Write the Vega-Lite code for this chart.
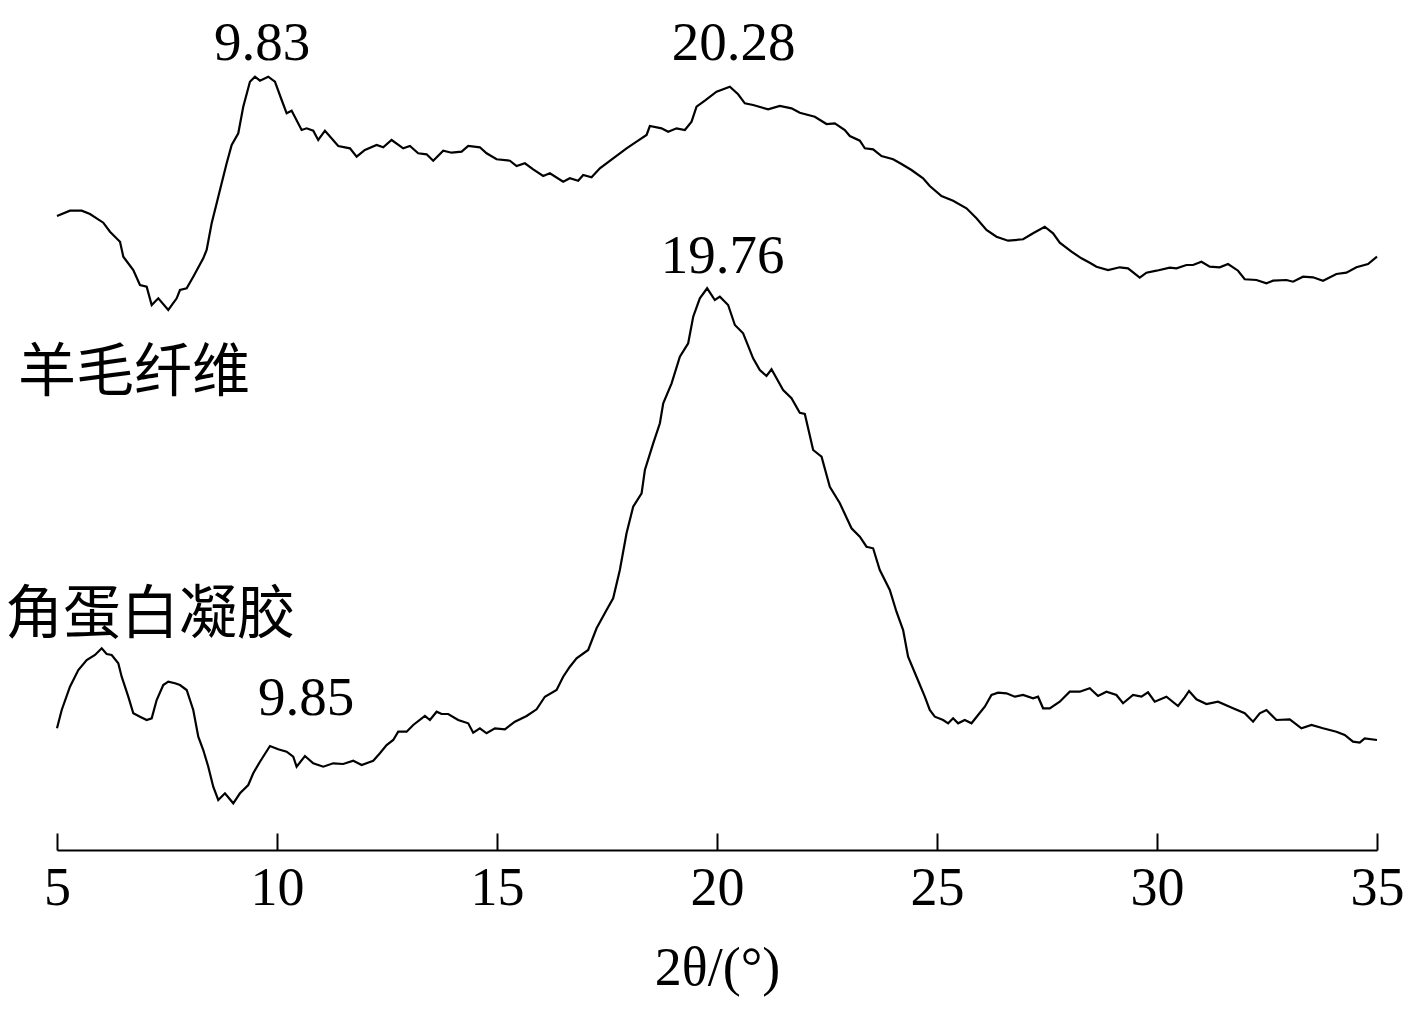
{
  "$schema": "https://vega.github.io/schema/vega-lite/v6.json",
  "autosize": {"type": "none"},
  "padding": {"left": 57, "top": 0, "right": 40, "bottom": 168},
  "width": 1320,
  "height": 850,
  "background": "white",
  "config": {"view": {"stroke": null}},
  "datasets": {
    "curves": [
      {"series":"wool","angle":5.0,"intensity":634},
      {"series":"wool","angle":5.295,"intensity":639.3},
      {"series":"wool","angle":5.561,"intensity":639.3},
      {"series":"wool","angle":5.75,"intensity":636},
      {"series":"wool","angle":6.052,"intensity":627.3},
      {"series":"wool","angle":6.204,"intensity":618.3},
      {"series":"wool","angle":6.432,"intensity":608.3},
      {"series":"wool","angle":6.507,"intensity":593.3},
      {"series":"wool","angle":6.734,"intensity":580},
      {"series":"wool","angle":6.886,"intensity":565},
      {"series":"wool","angle":7.038,"intensity":563.3},
      {"series":"wool","angle":7.152,"intensity":545},
      {"series":"wool","angle":7.302,"intensity":551.7},
      {"series":"wool","angle":7.529,"intensity":540},
      {"series":"wool","angle":7.72,"intensity":551.7},
      {"series":"wool","angle":7.795,"intensity":560},
      {"series":"wool","angle":7.947,"intensity":561.7},
      {"series":"wool","angle":8.097,"intensity":573.3},
      {"series":"wool","angle":8.324,"intensity":591.7},
      {"series":"wool","angle":8.401,"intensity":600},
      {"series":"wool","angle":8.515,"intensity":626.7},
      {"series":"wool","angle":8.629,"intensity":646.7},
      {"series":"wool","angle":8.742,"intensity":666.7},
      {"series":"wool","angle":8.856,"intensity":686.7},
      {"series":"wool","angle":8.97,"intensity":705},
      {"series":"wool","angle":9.12,"intensity":716.7},
      {"series":"wool","angle":9.233,"intensity":743.3},
      {"series":"wool","angle":9.385,"intensity":768.3},
      {"series":"wool","angle":9.499,"intensity":773.3},
      {"series":"wool","angle":9.613,"intensity":769.3},
      {"series":"wool","angle":9.801,"intensity":773.3},
      {"series":"wool","angle":9.953,"intensity":768.3},
      {"series":"wool","angle":10.106,"intensity":750},
      {"series":"wool","angle":10.219,"intensity":736.7},
      {"series":"wool","angle":10.333,"intensity":739.3},
      {"series":"wool","angle":10.56,"intensity":720},
      {"series":"wool","angle":10.674,"intensity":721.7},
      {"series":"wool","angle":10.824,"intensity":719.3},
      {"series":"wool","angle":10.937,"intensity":710},
      {"series":"wool","angle":11.09,"intensity":719.3},
      {"series":"wool","angle":11.392,"intensity":704},
      {"series":"wool","angle":11.658,"intensity":701.7},
      {"series":"wool","angle":11.81,"intensity":693.3},
      {"series":"wool","angle":11.998,"intensity":700},
      {"series":"wool","angle":12.264,"intensity":705},
      {"series":"wool","angle":12.414,"intensity":702.7},
      {"series":"wool","angle":12.605,"intensity":710},
      {"series":"wool","angle":12.869,"intensity":701.7},
      {"series":"wool","angle":13.021,"intensity":704},
      {"series":"wool","angle":13.209,"intensity":696.7},
      {"series":"wool","angle":13.4,"intensity":695.7},
      {"series":"wool","angle":13.55,"intensity":689.3},
      {"series":"wool","angle":13.778,"intensity":699.3},
      {"series":"wool","angle":13.968,"intensity":697.3},
      {"series":"wool","angle":14.196,"intensity":698.3},
      {"series":"wool","angle":14.346,"intensity":704},
      {"series":"wool","angle":14.611,"intensity":702.7},
      {"series":"wool","angle":14.763,"intensity":696.7},
      {"series":"wool","angle":14.991,"intensity":690.7},
      {"series":"wool","angle":15.293,"intensity":689.3},
      {"series":"wool","angle":15.445,"intensity":684},
      {"series":"wool","angle":15.634,"intensity":686.7},
      {"series":"wool","angle":15.823,"intensity":680.7},
      {"series":"wool","angle":16.05,"intensity":674},
      {"series":"wool","angle":16.202,"intensity":676.7},
      {"series":"wool","angle":16.504,"intensity":668.3},
      {"series":"wool","angle":16.656,"intensity":671.7},
      {"series":"wool","angle":16.845,"intensity":669.3},
      {"series":"wool","angle":16.959,"intensity":675},
      {"series":"wool","angle":17.149,"intensity":672.7},
      {"series":"wool","angle":17.338,"intensity":681.7},
      {"series":"wool","angle":17.64,"intensity":691.7},
      {"series":"wool","angle":17.945,"intensity":701.7},
      {"series":"wool","angle":18.172,"intensity":708.3},
      {"series":"wool","angle":18.399,"intensity":715},
      {"series":"wool","angle":18.474,"intensity":724},
      {"series":"wool","angle":18.74,"intensity":721.7},
      {"series":"wool","angle":18.89,"intensity":718.3},
      {"series":"wool","angle":19.081,"intensity":721.7},
      {"series":"wool","angle":19.27,"intensity":720},
      {"series":"wool","angle":19.422,"intensity":728.3},
      {"series":"wool","angle":19.535,"intensity":743.3},
      {"series":"wool","angle":19.724,"intensity":749.3},
      {"series":"wool","angle":19.99,"intensity":758.3},
      {"series":"wool","angle":20.292,"intensity":763.3},
      {"series":"wool","angle":20.48,"intensity":755.7},
      {"series":"wool","angle":20.633,"intensity":746.7},
      {"series":"wool","angle":20.821,"intensity":745},
      {"series":"wool","angle":21.162,"intensity":740.7},
      {"series":"wool","angle":21.428,"intensity":744},
      {"series":"wool","angle":21.694,"intensity":741.7},
      {"series":"wool","angle":21.882,"intensity":737.3},
      {"series":"wool","angle":22.223,"intensity":733.3},
      {"series":"wool","angle":22.489,"intensity":726},
      {"series":"wool","angle":22.678,"intensity":726.7},
      {"series":"wool","angle":22.905,"intensity":720},
      {"series":"wool","angle":23.019,"intensity":714},
      {"series":"wool","angle":23.246,"intensity":709.3},
      {"series":"wool","angle":23.36,"intensity":701.7},
      {"series":"wool","angle":23.548,"intensity":700.7},
      {"series":"wool","angle":23.739,"intensity":694},
      {"series":"wool","angle":24.003,"intensity":690.7},
      {"series":"wool","angle":24.193,"intensity":686},
      {"series":"wool","angle":24.42,"intensity":680},
      {"series":"wool","angle":24.684,"intensity":671.7},
      {"series":"wool","angle":24.836,"intensity":664},
      {"series":"wool","angle":25.102,"intensity":654},
      {"series":"wool","angle":25.366,"intensity":649.3},
      {"series":"wool","angle":25.67,"intensity":641.7},
      {"series":"wool","angle":25.897,"intensity":631.7},
      {"series":"wool","angle":26.124,"intensity":620},
      {"series":"wool","angle":26.352,"intensity":613.3},
      {"series":"wool","angle":26.616,"intensity":609.3},
      {"series":"wool","angle":26.957,"intensity":610.7},
      {"series":"wool","angle":27.184,"intensity":616.7},
      {"series":"wool","angle":27.449,"intensity":623.3},
      {"series":"wool","angle":27.638,"intensity":616.7},
      {"series":"wool","angle":27.79,"intensity":607.3},
      {"series":"wool","angle":28.056,"intensity":598.3},
      {"series":"wool","angle":28.283,"intensity":591.7},
      {"series":"wool","angle":28.472,"intensity":587.3},
      {"series":"wool","angle":28.624,"intensity":583.3},
      {"series":"wool","angle":28.888,"intensity":580},
      {"series":"wool","angle":29.153,"intensity":582.7},
      {"series":"wool","angle":29.342,"intensity":581.7},
      {"series":"wool","angle":29.608,"intensity":572.3},
      {"series":"wool","angle":29.76,"intensity":577.3},
      {"series":"wool","angle":29.987,"intensity":579.3},
      {"series":"wool","angle":30.29,"intensity":582.3},
      {"series":"wool","angle":30.442,"intensity":581.7},
      {"series":"wool","angle":30.669,"intensity":585},
      {"series":"wool","angle":30.819,"intensity":585},
      {"series":"wool","angle":31.01,"intensity":588.3},
      {"series":"wool","angle":31.199,"intensity":583.3},
      {"series":"wool","angle":31.426,"intensity":582.7},
      {"series":"wool","angle":31.615,"intensity":586},
      {"series":"wool","angle":31.842,"intensity":579.3},
      {"series":"wool","angle":31.994,"intensity":570.7},
      {"series":"wool","angle":32.26,"intensity":570},
      {"series":"wool","angle":32.487,"intensity":566.7},
      {"series":"wool","angle":32.637,"intensity":569.3},
      {"series":"wool","angle":32.941,"intensity":570},
      {"series":"wool","angle":33.092,"intensity":568.3},
      {"series":"wool","angle":33.319,"intensity":573.3},
      {"series":"wool","angle":33.546,"intensity":572.7},
      {"series":"wool","angle":33.773,"intensity":569.3},
      {"series":"wool","angle":34.077,"intensity":576},
      {"series":"wool","angle":34.305,"intensity":577.3},
      {"series":"wool","angle":34.532,"intensity":582.7},
      {"series":"wool","angle":34.796,"intensity":586},
      {"series":"wool","angle":35.0,"intensity":593.3},
      {"series":"gel","angle":5.0,"intensity":121.7},
      {"series":"gel","angle":5.107,"intensity":140},
      {"series":"gel","angle":5.295,"intensity":163.3},
      {"series":"gel","angle":5.484,"intensity":180},
      {"series":"gel","angle":5.675,"intensity":190},
      {"series":"gel","angle":5.863,"intensity":195},
      {"series":"gel","angle":6.016,"intensity":201.7},
      {"series":"gel","angle":6.129,"intensity":196},
      {"series":"gel","angle":6.243,"intensity":195},
      {"series":"gel","angle":6.393,"intensity":186.7},
      {"series":"gel","angle":6.47,"intensity":173.3},
      {"series":"gel","angle":6.62,"intensity":153.3},
      {"series":"gel","angle":6.734,"intensity":136.7},
      {"series":"gel","angle":6.886,"intensity":133.3},
      {"series":"gel","angle":7.038,"intensity":130},
      {"series":"gel","angle":7.152,"intensity":131.7},
      {"series":"gel","angle":7.265,"intensity":150},
      {"series":"gel","angle":7.415,"intensity":165},
      {"series":"gel","angle":7.529,"intensity":168.3},
      {"series":"gel","angle":7.681,"intensity":166.7},
      {"series":"gel","angle":7.795,"intensity":165},
      {"series":"gel","angle":7.947,"intensity":160},
      {"series":"gel","angle":8.097,"intensity":140},
      {"series":"gel","angle":8.211,"intensity":113.3},
      {"series":"gel","angle":8.324,"intensity":100},
      {"series":"gel","angle":8.438,"intensity":83.3},
      {"series":"gel","angle":8.551,"intensity":63.3},
      {"series":"gel","angle":8.665,"intensity":50},
      {"series":"gel","angle":8.817,"intensity":56.7},
      {"series":"gel","angle":9.006,"intensity":46.7},
      {"series":"gel","angle":9.158,"intensity":56.7},
      {"series":"gel","angle":9.347,"intensity":65},
      {"series":"gel","angle":9.46,"intensity":76.7},
      {"series":"gel","angle":9.613,"intensity":88.3},
      {"series":"gel","angle":9.84,"intensity":104},
      {"series":"gel","angle":10.028,"intensity":100.7},
      {"series":"gel","angle":10.219,"intensity":98.3},
      {"series":"gel","angle":10.369,"intensity":93.3},
      {"series":"gel","angle":10.446,"intensity":83.3},
      {"series":"gel","angle":10.635,"intensity":94},
      {"series":"gel","angle":10.824,"intensity":86.7},
      {"series":"gel","angle":11.051,"intensity":83.3},
      {"series":"gel","angle":11.278,"intensity":86.7},
      {"series":"gel","angle":11.505,"intensity":86},
      {"series":"gel","angle":11.733,"intensity":89.3},
      {"series":"gel","angle":11.924,"intensity":85},
      {"series":"gel","angle":12.187,"intensity":89.3},
      {"series":"gel","angle":12.339,"intensity":96.7},
      {"series":"gel","angle":12.491,"intensity":105},
      {"series":"gel","angle":12.642,"intensity":110},
      {"series":"gel","angle":12.755,"intensity":118.3},
      {"series":"gel","angle":12.946,"intensity":118.3},
      {"series":"gel","angle":13.096,"intensity":125},
      {"series":"gel","angle":13.362,"intensity":134},
      {"series":"gel","angle":13.475,"intensity":130},
      {"series":"gel","angle":13.628,"intensity":138.3},
      {"series":"gel","angle":13.741,"intensity":136},
      {"series":"gel","angle":13.891,"intensity":136},
      {"series":"gel","angle":14.118,"intensity":130},
      {"series":"gel","angle":14.346,"intensity":126.7},
      {"series":"gel","angle":14.459,"intensity":117.3},
      {"series":"gel","angle":14.611,"intensity":121.7},
      {"series":"gel","angle":14.763,"intensity":116.7},
      {"series":"gel","angle":14.952,"intensity":121.7},
      {"series":"gel","angle":15.18,"intensity":120.7},
      {"series":"gel","angle":15.407,"intensity":128.3},
      {"series":"gel","angle":15.673,"intensity":134},
      {"series":"gel","angle":15.9,"intensity":140.7},
      {"series":"gel","angle":16.088,"intensity":153.3},
      {"series":"gel","angle":16.354,"intensity":160},
      {"series":"gel","angle":16.504,"intensity":173.3},
      {"series":"gel","angle":16.656,"intensity":183.3},
      {"series":"gel","angle":16.808,"intensity":191.7},
      {"series":"gel","angle":17.072,"intensity":200},
      {"series":"gel","angle":17.263,"intensity":221.7},
      {"series":"gel","angle":17.49,"intensity":240},
      {"series":"gel","angle":17.64,"intensity":251.7},
      {"series":"gel","angle":17.792,"intensity":280},
      {"series":"gel","angle":17.944,"intensity":316.7},
      {"series":"gel","angle":18.095,"intensity":343.3},
      {"series":"gel","angle":18.286,"intensity":356.7},
      {"series":"gel","angle":18.361,"intensity":380},
      {"series":"gel","angle":18.55,"intensity":406.7},
      {"series":"gel","angle":18.702,"intensity":426.7},
      {"series":"gel","angle":18.778,"intensity":446.7},
      {"series":"gel","angle":18.968,"intensity":466.7},
      {"series":"gel","angle":19.156,"intensity":493.3},
      {"series":"gel","angle":19.345,"intensity":506.7},
      {"series":"gel","angle":19.459,"intensity":533.3},
      {"series":"gel","angle":19.61,"intensity":551.7},
      {"series":"gel","angle":19.776,"intensity":561.7},
      {"series":"gel","angle":19.951,"intensity":550},
      {"series":"gel","angle":20.065,"intensity":553.3},
      {"series":"gel","angle":20.253,"intensity":545},
      {"series":"gel","angle":20.406,"intensity":525},
      {"series":"gel","angle":20.594,"intensity":516.7},
      {"series":"gel","angle":20.821,"intensity":491.7},
      {"series":"gel","angle":20.973,"intensity":480},
      {"series":"gel","angle":21.125,"intensity":474},
      {"series":"gel","angle":21.239,"intensity":480.7},
      {"series":"gel","angle":21.503,"intensity":460},
      {"series":"gel","angle":21.693,"intensity":451.7},
      {"series":"gel","angle":21.882,"intensity":437.3},
      {"series":"gel","angle":21.996,"intensity":436},
      {"series":"gel","angle":22.185,"intensity":400},
      {"series":"gel","angle":22.376,"intensity":393.3},
      {"series":"gel","angle":22.564,"intensity":363.3},
      {"series":"gel","angle":22.792,"intensity":346.7},
      {"series":"gel","angle":23.057,"intensity":321.7},
      {"series":"gel","angle":23.246,"intensity":313.3},
      {"series":"gel","angle":23.398,"intensity":303.3},
      {"series":"gel","angle":23.548,"intensity":301.7},
      {"series":"gel","angle":23.7,"intensity":280},
      {"series":"gel","angle":23.927,"intensity":260},
      {"series":"gel","angle":24.079,"intensity":238.3},
      {"series":"gel","angle":24.23,"intensity":220},
      {"series":"gel","angle":24.343,"intensity":193.3},
      {"series":"gel","angle":24.534,"intensity":173.3},
      {"series":"gel","angle":24.723,"intensity":153.3},
      {"series":"gel","angle":24.836,"intensity":140},
      {"series":"gel","angle":24.95,"intensity":133.3},
      {"series":"gel","angle":25.139,"intensity":130},
      {"series":"gel","angle":25.253,"intensity":126.7},
      {"series":"gel","angle":25.366,"intensity":131.7},
      {"series":"gel","angle":25.48,"intensity":126.7},
      {"series":"gel","angle":25.631,"intensity":130},
      {"series":"gel","angle":25.784,"intensity":126.7},
      {"series":"gel","angle":25.934,"intensity":135},
      {"series":"gel","angle":26.086,"intensity":143.3},
      {"series":"gel","angle":26.238,"intensity":155},
      {"series":"gel","angle":26.389,"intensity":157.3},
      {"series":"gel","angle":26.579,"intensity":156.7},
      {"series":"gel","angle":26.768,"intensity":153.3},
      {"series":"gel","angle":26.956,"intensity":155},
      {"series":"gel","angle":27.184,"intensity":151.7},
      {"series":"gel","angle":27.297,"intensity":153.3},
      {"series":"gel","angle":27.411,"intensity":141.7},
      {"series":"gel","angle":27.563,"intensity":141.7},
      {"series":"gel","angle":27.79,"intensity":148.3},
      {"series":"gel","angle":28.017,"intensity":158.3},
      {"series":"gel","angle":28.244,"intensity":158.3},
      {"series":"gel","angle":28.472,"intensity":161.7},
      {"series":"gel","angle":28.66,"intensity":154},
      {"series":"gel","angle":28.851,"intensity":158.3},
      {"series":"gel","angle":29.078,"intensity":155},
      {"series":"gel","angle":29.228,"intensity":146.7},
      {"series":"gel","angle":29.456,"intensity":155},
      {"series":"gel","angle":29.646,"intensity":153.3},
      {"series":"gel","angle":29.796,"intensity":157.7},
      {"series":"gel","angle":29.948,"intensity":148.3},
      {"series":"gel","angle":30.214,"intensity":153.3},
      {"series":"gel","angle":30.478,"intensity":144},
      {"series":"gel","angle":30.63,"intensity":152.7},
      {"series":"gel","angle":30.728,"intensity":159},
      {"series":"gel","angle":30.896,"intensity":150.7},
      {"series":"gel","angle":31.123,"intensity":146},
      {"series":"gel","angle":31.387,"intensity":148.3},
      {"series":"gel","angle":31.728,"intensity":141.7},
      {"series":"gel","angle":31.994,"intensity":136.7},
      {"series":"gel","angle":32.183,"intensity":128.3},
      {"series":"gel","angle":32.335,"intensity":136.7},
      {"series":"gel","angle":32.487,"intensity":140},
      {"series":"gel","angle":32.714,"intensity":130},
      {"series":"gel","angle":33.017,"intensity":130.7},
      {"series":"gel","angle":33.283,"intensity":121.7},
      {"series":"gel","angle":33.51,"intensity":125},
      {"series":"gel","angle":33.773,"intensity":121.7},
      {"series":"gel","angle":34.077,"intensity":118.3},
      {"series":"gel","angle":34.266,"intensity":115},
      {"series":"gel","angle":34.455,"intensity":108.3},
      {"series":"gel","angle":34.607,"intensity":107.3},
      {"series":"gel","angle":34.721,"intensity":111.7},
      {"series":"gel","angle":35.0,"intensity":110}
    ],
    "peaks": [
      {"label":"9.83","angle":9.66,"intensity":790},
      {"label":"20.28","angle":20.38,"intensity":790},
      {"label":"19.76","angle":20.13,"intensity":577},
      {"label":"9.85","angle":10.66,"intensity":135}
    ],
    "names": [
      {"label":"羊毛纤维","angle":4.114,"intensity":459},
      {"label":"角蛋白凝胶","angle":3.818,"intensity":217}
    ]
  },
  "layer": [
    {
      "data": {"name": "curves"},
      "mark": {"type": "line", "color": "black", "strokeWidth": 2.2, "interpolate": "linear"},
      "encoding": {
        "x": {
          "field": "angle", "type": "quantitative",
          "scale": {"domain": [5, 35], "nice": false, "zero": false},
          "axis": {
            "values": [5, 10, 15, 20, 25, 30, 35],
            "title": "2θ/(°)",
            "grid": false,
            "domainColor": "black", "domainWidth": 2,
            "tickColor": "black", "tickWidth": 2, "tickSize": -17,
            "labelFont": "Liberation Serif", "labelFontSize": 54, "labelColor": "black",
            "labelPadding": 28, "labelFlush": false, "labelOverlap": false,
            "titleFont": "Liberation Serif", "titleFontSize": 54, "titleFontWeight": "normal",
            "titleColor": "black", "titlePadding": 26
          }
        },
        "y": {
          "field": "intensity", "type": "quantitative",
          "scale": {"domain": [0, 850], "nice": false, "zero": false},
          "axis": null
        },
        "detail": {"field": "series"}
      }
    },
    {
      "data": {"name": "peaks"},
      "mark": {"type": "text", "font": "Liberation Serif", "fontSize": 55, "color": "black", "align": "center", "baseline": "alphabetic"},
      "encoding": {
        "x": {"field": "angle", "type": "quantitative"},
        "y": {"field": "intensity", "type": "quantitative"},
        "text": {"field": "label"}
      }
    },
    {
      "data": {"name": "names"},
      "mark": {"type": "text", "font": "Noto Sans CJK SC", "fontSize": 58, "color": "black", "align": "left", "baseline": "alphabetic"},
      "encoding": {
        "x": {"field": "angle", "type": "quantitative"},
        "y": {"field": "intensity", "type": "quantitative"},
        "text": {"field": "label"}
      }
    }
  ]
}
